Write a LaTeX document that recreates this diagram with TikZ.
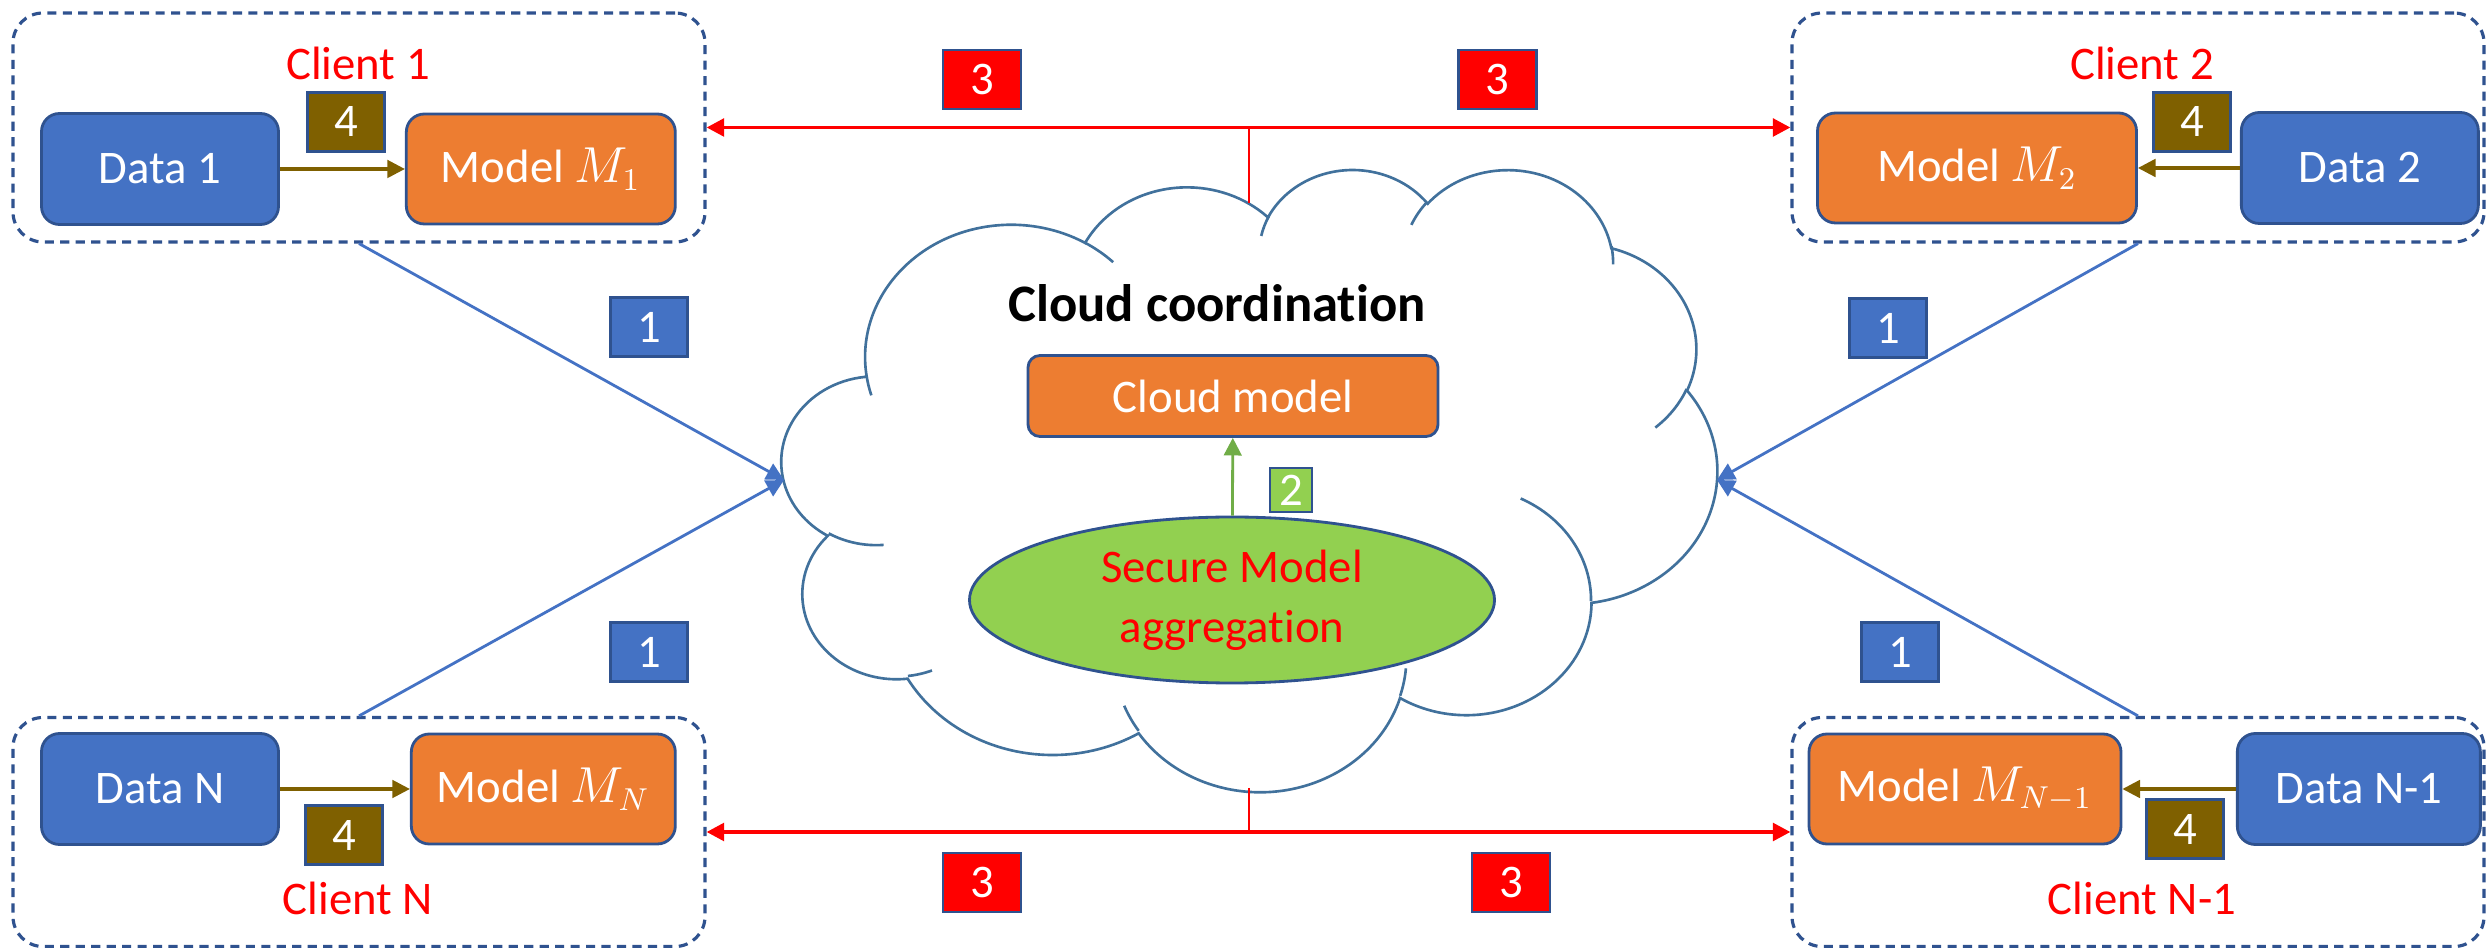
\documentclass[tikz,border=0pt]{standalone}
\usepackage{fontspec}
\setmainfont{Carlito}[Ligatures={NoCommon,NoContextual,NoRequired}]
\usetikzlibrary{shapes.geometric, arrows.meta, positioning}
\usepackage{xcolor}

\definecolor{pptblue}{HTML}{4472C4}
\definecolor{pptorange}{HTML}{ED7D31}
\definecolor{pptedge}{HTML}{2F528F}
\definecolor{pptgreen}{HTML}{92D050}
\definecolor{pptbrown}{HTML}{7F6000}
\definecolor{cloudedge}{HTML}{41719C}
\definecolor{arrowgreen}{HTML}{70AD47}

% one lobe of the cloud: radii, start angle, sweep
\newcommand{\cloudarc}[4]{arc[x radius=#1, y radius=#2,
  start angle={atan2(#1*sin(#3),#2*cos(#3))},
  delta angle={mod(atan2(#1*sin(#3+#4),#2*cos(#3+#4))-atan2(#1*sin(#3),#2*cos(#3))+720,360)}]}

\begin{document}
\begin{tikzpicture}[
    >={Triangle[length=5pt, width=5pt]},
    font=\fontsize{13.3}{17}\selectfont,
    base/.style={draw=pptedge, align=center, line width=0.8pt, inner sep=2pt, text=white},
    client/.style={draw=pptedge, line width=0.9pt, dash pattern=on 2.6pt off 1.8pt, rounded corners=0.3cm, minimum width=6.92cm, minimum height=2.29cm},
    clientlabel/.style={text=red, inner sep=1pt},
    data/.style={base, rectangle, rounded corners=0.18cm, fill=pptblue, minimum width=2.37cm, minimum height=1.11cm},
    model/.style={base, rectangle, rounded corners=0.18cm, fill=pptorange, minimum height=1.1cm},
    badge/.style={base, rectangle, minimum width=0.77cm, minimum height=0.59cm, inner sep=0pt},
    cloudline/.style={draw=cloudedge, line width=0.75pt},
    localarrow/.style={->, line width=0.9pt, pptbrown},
    uparrow/.style={->, line width=0.8pt, pptblue},
    downarrow/.style={->, line width=1.1pt, red},
    stem/.style={line width=0.75pt, red}
  ]
    \useasboundingbox (0,0) rectangle (24.86,-9.48);

    % clients
    \node[client] (c1) at (3.59,-1.275) {};
    \node[client] (c2) at (21.38,-1.275) {};
    \node[client] (cN) at (3.59,-8.32) {};
    \node[client] (cN1) at (21.38,-8.32) {};

    \node[clientlabel] (lab1) at (3.58,-0.63) {Client 1};
    \node[clientlabel] (lab2) at (21.42,-0.63) {Client 2};
    \node[clientlabel] (labN) at (3.58,-8.98) {Client N};
    \node[clientlabel] (labN1) at (21.42,-8.98) {Client N-1};

    \node[data] (data1) at (1.60,-1.69) {Data 1};
    \node[model, minimum width=2.69cm, right=1.25cm of data1] (model1) {Model $M_1$};
    \node[model, minimum width=3.19cm] (model2) at (19.77,-1.68) {Model $M_2$};
    \node[data, right=1.02cm of model2] (data2) {Data 2};
    \node[data] (dataN) at (1.60,-7.89) {Data N};
    \node[model, minimum width=2.64cm, right=1.3cm of dataN] (modelN) {Model $M_N$};
    \node[model, minimum width=3.12cm] (modelN1) at (19.65,-7.89) {Model $M_{N-1}$};
    \node[data, minimum width=2.43cm, right=1.135cm of modelN1] (dataN1) {Data N-1};

    \node[badge, fill=pptbrown] (s4a) at (3.46,-1.22) {4};
    \node[badge, fill=pptbrown] (s4b) at (21.92,-1.22) {4};
    \node[badge, fill=pptbrown] (s4c) at (3.44,-8.35) {4};
    \node[badge, fill=pptbrown] (s4d) at (21.85,-8.29) {4};

    \draw[localarrow] (data1) -- (model1);
    \draw[localarrow] (data2) -- (model2);
    \draw[localarrow] (dataN) -- (modelN);
    \draw[localarrow] (dataN1) -- (modelN1);

    % cloud outline
    \begin{scope}[shift={(7.82,-1.68)}, x=0.216435cm, y=-0.143981cm]
      \draw[cloudline, fill=white] (3.9,14.37)
        \cloudarc{6.753}{9.19}{-190.4875}{123.7805}
        \cloudarc{5.333}{7.267}{-144.1024}{89.9452}
        \cloudarc{4.365}{5.945}{-145.8079}{99.7230}
        \cloudarc{4.857}{6.595}{-130.9861}{117.2417}
        \cloudarc{5.333}{7.273}{-78.7089}{109.0269}
        \cloudarc{6.775}{9.22}{-46.2673}{130.2690}
        \cloudarc{5.785}{7.867}{0.6250}{114.0333}
        \cloudarc{6.752}{9.215}{22.4516}{115.1726}
        \cloudarc{7.72}{10.543}{66.2426}{75.7110}
        \cloudarc{4.36}{5.918}{-274.9421}{146.7356}
        \cloudarc{4.345}{5.945}{-246.8285}{152.5189} -- cycle;
      \draw[cloudline] (4.693,26.177) \cloudarc{4.345}{5.945}{86.7420}{26.4295};
      \draw[cloudline] (6.928,34.899) \cloudarc{4.36}{5.918}{73.6105}{11.4475};
      \draw[cloudline] (16.478,39.09) \cloudarc{6.752}{9.215}{137.6242}{14.0811};
      \draw[cloudline] (28.827,34.751) \cloudarc{6.752}{9.215}{6.4533}{15.9984};
      \draw[cloudline] (34.129,22.954) \cloudarc{5.785}{7.867}{-70.2924}{70.9174};
      \draw[cloudline] (41.798,15.354) \cloudarc{5.333}{7.273}{30.3180}{27.7515};
      \draw[cloudline] (38.324,5.426) \cloudarc{4.857}{6.595}{-13.7443}{14.8589};
      \draw[cloudline] (29.078,3.952) \cloudarc{4.857}{6.595}{-149.1815}{18.1954};
      \draw[cloudline] (22.141,4.72) \cloudarc{4.365}{5.945}{-163.4943}{17.6864};
      \draw[cloudline] (14.0,5.192) \cloudarc{6.753}{9.19}{-66.7070}{12.3194};
      \draw[cloudline] (4.127,15.789) \cloudarc{6.753}{9.19}{157.6544}{11.8582};
    \end{scope}
    \coordinate (cloudW) at (7.84,-4.80);
    \coordinate (cloudE) at (17.17,-4.80);
    \coordinate (cloudtop) at (12.49,-2.03);
    \coordinate (cloudbot) at (12.49,-7.88);
    \coordinate (topsplit) at (12.49,-1.275);
    \coordinate (botsplit) at (12.49,-8.32);

    \node[font=\fontsize{15}{18}\selectfont\bfseries] (title) at (12.17,-3.03) {Cloud coordination};
    \node[model, rounded corners=0.12cm, minimum width=4.1cm, minimum height=0.81cm] (cloudmodel) at (12.33,-3.96) {Cloud model};
    \node[base, ellipse, fill=pptgreen, text=red, minimum width=5.25cm, minimum height=1.66cm] (agg) at (12.32,-6.00) {Secure Model\\aggregation};
    \node[badge, fill=pptgreen, minimum width=0.42cm, minimum height=0.44cm] (s2) at (12.91,-4.90) {2};
    \draw[->, line width=0.8pt, arrowgreen] (agg) -- (cloudmodel);

    % uploads
    \node[badge, fill=pptblue] (s1a) at (6.49,-3.27) {1};
    \node[badge, fill=pptblue] (s1b) at (18.88,-3.28) {1};
    \node[badge, fill=pptblue] (s1c) at (6.49,-6.52) {1};
    \node[badge, fill=pptblue] (s1d) at (19.00,-6.52) {1};
    \draw[uparrow] (c1.south) -- (cloudW);
    \draw[uparrow] (cN.north) -- (cloudW);
    \draw[uparrow] (c2.south) -- (cloudE);
    \draw[uparrow] (cN1.north) -- (cloudE);

    % downloads
    \node[badge, fill=red, minimum width=0.78cm] (s3a) at (9.82,-0.795) {3};
    \node[badge, fill=red, minimum width=0.78cm] (s3b) at (14.975,-0.795) {3};
    \node[badge, fill=red, minimum width=0.78cm] (s3c) at (9.82,-8.825) {3};
    \node[badge, fill=red, minimum width=0.78cm] (s3d) at (15.11,-8.825) {3};
    \draw[stem] (cloudtop) -- (topsplit);
    \draw[downarrow] (topsplit) -- (c1.east);
    \draw[downarrow] (topsplit) -- (c2.west);
    \draw[stem] (cloudbot) -- (botsplit);
    \draw[downarrow] (botsplit) -- (cN.east);
    \draw[downarrow] (botsplit) -- (cN1.west);
  \end{tikzpicture}
\end{document}
